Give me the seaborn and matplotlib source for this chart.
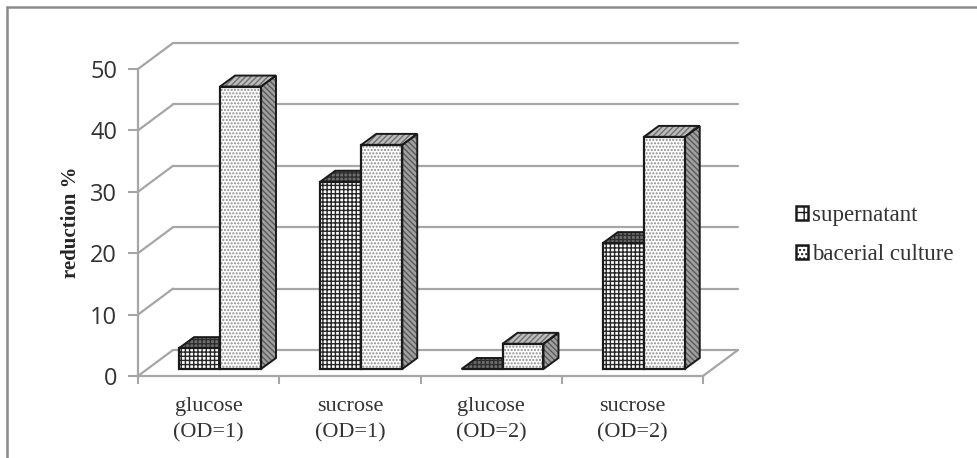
import matplotlib
matplotlib.use('Agg')
import matplotlib.pyplot as plt
import matplotlib.transforms as mtrans
from matplotlib.lines import Line2D
from matplotlib.patches import Patch, Polygon, Rectangle
import pandas as pd
import seaborn as sns

categories = ['glucose\n(OD=1)', 'sucrose\n(OD=1)', 'glucose\n(OD=2)', 'sucrose\n(OD=2)']
supernatant = [3.4, 30.5, 0.0, 20.5]
bacterial = [46.0, 36.5, 4.1, 37.8]
series_names = ['supernatant', 'bacerial culture']
y_ticks = [0, 10, 20, 30, 40, 50]

W, H = 977, 458
GREY = '#a6a6a6'
DARK = '#1a1a1a'

# pixel offsets of the fake 3d look
WALL_DX, WALL_DY = 35, 26
BAR_DX, BAR_DY = 11.4, 7
DEPTH_DX, DEPTH_DY = 15, 11


def shifted(ax, dx, dy):
    return ax.transData + mtrans.Affine2D().translate(dx, dy)


def add_face(ax, pts, fc, hatch_color, hatch, z):
    # hatch colour follows the edge colour, so the outline is a second patch
    ax.add_patch(Polygon(pts, fc=fc, ec=hatch_color, lw=0, hatch=hatch,
                         transform=None, clip_on=False, zorder=z))
    ax.add_patch(Polygon(pts, fill=False, ec=DARK, lw=1.4,
                         transform=None, clip_on=False, zorder=z + 0.001))


sns.set_theme(style='white')
plt.rcParams['hatch.linewidth'] = 1.0

df = pd.DataFrame({
    'category': categories * 2,
    'value': supernatant + bacterial,
    'series': [series_names[0]] * 4 + [series_names[1]] * 4,
})

fig = plt.figure(figsize=(W / 100, H / 100), dpi=100, facecolor='white')
ax = fig.add_axes([138 / W, 1 - 376 / H, 565 / W, 307 / H])
ax.patch.set_alpha(0)

sns.barplot(data=df, x='category', y='value', hue='series', order=categories,
            hue_order=series_names, width=0.58, gap=0, dodge=True,
            palette=['white', 'white'], saturation=1, legend=False, ax=ax)
ax.set_xlim(-0.5, 3.5)
ax.set_ylim(0, 50)

# back wall, floor and the diagonal lines
wall = shifted(ax, WALL_DX, WALL_DY)
for t in y_ticks:
    ax.plot([-0.5, 3.5], [t, t], color=GREY, lw=1.6, transform=wall, clip_on=False, zorder=0.5)
    x0, y0 = ax.transData.transform((-0.5, t))
    ax.add_line(Line2D([x0, x0 + WALL_DX], [y0, y0 + WALL_DY], color=GREY, lw=1.6,
                       transform=None, clip_on=False, zorder=0.5))
x1, y1 = ax.transData.transform((3.5, 0))
ax.add_line(Line2D([x1, x1 + WALL_DX], [y1, y1 + WALL_DY], color=GREY, lw=1.6,
                   transform=None, clip_on=False, zorder=0.5))

# front faces come from seaborn, sides and tops are built from their bars
n = len(categories)
bars = [p for p in ax.patches if p.get_width() > 0][:2 * n]
bar_shift = mtrans.Affine2D().translate(BAR_DX, BAR_DY)
for i, bar in enumerate(bars):
    is_sup = i < n
    x, w, h = bar.get_x(), bar.get_width(), bar.get_height()
    (xa, ya) = ax.transData.transform((x, 0)) + (BAR_DX, BAR_DY)
    (xb, yb) = ax.transData.transform((x + w, h)) + (BAR_DX, BAR_DY)
    z = 2 + i % n * 0.1 + (0.05 if not is_sup else 0)

    bar.set_transform(ax.transData + bar_shift)
    bar.set_clip_on(False)
    bar.set_zorder(z + 0.02)
    bar.set_hatch('++++' if is_sup else '.....')
    bar.set_edgecolor('#262626' if is_sup else '#8a8a8a')
    bar.set_linewidth(0)
    ax.add_patch(Rectangle((xa, ya), xb - xa, yb - ya, fill=False, ec=DARK, lw=1.6,
                           transform=None, clip_on=False, zorder=z + 0.03))

    top = [(xa, yb), (xb, yb), (xb + DEPTH_DX, yb + DEPTH_DY), (xa + DEPTH_DX, yb + DEPTH_DY)]
    if is_sup:
        add_face(ax, top, '#6e6e6e', '#2e2e2e', '++++', z)
    else:
        add_face(ax, top, '#bdbdbd', '#6e6e6e', '//////', z)
    if h > 0:
        side = [(xb, ya), (xb + DEPTH_DX, ya + DEPTH_DY), (xb + DEPTH_DX, yb + DEPTH_DY), (xb, yb)]
        add_face(ax, side, '#a0a0a0', '#5a5a5a', '\\\\\\\\\\\\', z)

# axes, ticks, labels
sns.despine(ax=ax, top=True, right=True)
for s in ['left', 'bottom']:
    ax.spines[s].set_color(GREY)
    ax.spines[s].set_linewidth(1.6)
ax.set_yticks(y_ticks)
ax.set_yticklabels([str(t) for t in y_ticks], family='Open Sans', fontsize=17, color='#333333')
ax.set_xticks([i + 0.5 for i in range(-1, n)])
ax.set_xticklabels([])
ax.set_xticks(range(n), categories, minor=True, family='Liberation Serif', fontsize=16, color='#333333', linespacing=1.55)
ax.tick_params(axis='y', length=7, width=1.5, color=GREY, left=True, pad=8)
ax.tick_params(axis='x', which='major', length=6, width=1.5, color=GREY, bottom=True)
ax.tick_params(axis='x', which='minor', length=0, pad=15)
ax.set_xlabel('')
ax.set_ylabel('reduction %', family='Liberation Serif', fontweight='bold', fontsize=15, color='#262626')
ax.yaxis.set_label_coords((81 - 138) / 565, 0.5 - (222 - 222.5) / 307)

handles = [Patch(fc='white', ec=DARK, hatch='++', lw=1.8), Patch(fc='white', ec=DARK, hatch='....', lw=1.8)]
leg = fig.legend(handles, series_names, loc='center left', bbox_to_anchor=(775 / W, 1 - 235 / H), frameon=False,
                 handlelength=0.55, handleheight=0.55, handletextpad=0.18, labelspacing=0.8,
                 prop={'family': 'Liberation Serif', 'size': 16.5})
for txt in leg.get_texts():
    txt.set_color('#333333')

# outer frame of the picture, open at right and bottom edges
for xs, ys in [([7, 7], [458, 7]), ([7, 977], [7, 7])]:
    fig.add_artist(Line2D([v / W for v in xs], [1 - v / H for v in ys], color='#8a8a8a', lw=1.8))

fig.savefig('out.png', dpi=100)
